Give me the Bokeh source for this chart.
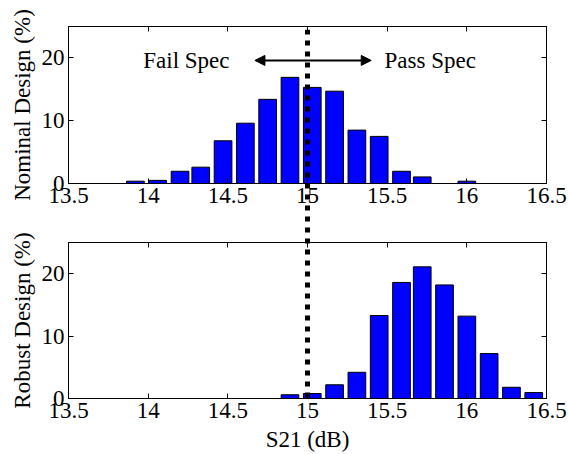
from bokeh.plotting import figure
from bokeh.models import LinearAxis, FixedTicker, Range1d, Arrow, NormalHead, Label, Span
from bokeh.layouts import column
from bokeh.embed import file_html
from bokeh.resources import INLINE

# ---- data ----
BIN_CENTERS = [13.50, 13.64, 13.78, 13.92, 14.06, 14.20, 14.33, 14.47, 14.61, 14.75, 14.89,
               15.03, 15.17, 15.31, 15.45, 15.59, 15.72, 15.86, 16.00, 16.14, 16.28, 16.42]
NOMINAL_PCT = [0, 0, 0, 0.37, 0.5, 1.95, 2.6, 6.8, 9.6, 13.4, 16.9,
               15.3, 14.7, 8.5, 7.5, 1.95, 1.05, 0, 0.37, 0, 0, 0]
ROBUST_PCT = [0, 0, 0, 0, 0, 0, 0, 0, 0, 0, 0.6,
              0.8, 2.2, 4.2, 13.3, 18.6, 21.1, 18.2, 13.2, 7.2, 1.8, 0.95]
X_TICKS = [13.5, 14.0, 14.5, 15.0, 15.5, 16.0, 16.5]
X_TICK_LABELS = ["13.5", "14", "14.5", "15", "15.5", "16", "16.5"]
Y_TICKS = [0, 10, 20]
X_RANGE = (13.5, 16.5)
Y_RANGE = (0, 25)
SPEC_DB = 15.0
ARROW_X = [14.67, 15.40]
ARROW_Y = 19.6
FAIL_X = 14.24
PASS_X = 15.77
BIN_WIDTH = 0.111

FONT = "Liberation Serif"
FS = "23px"
W = 569
BL, BR = 68, 23


def style_axis(ax, ticks, show_labels=True):
    ax.ticker = FixedTicker(ticks=ticks)
    ax.axis_line_color = "black"
    ax.axis_line_width = 1
    ax.major_tick_line_color = "black"
    ax.major_tick_in = 5
    ax.major_tick_out = 0
    ax.minor_tick_line_color = None
    ax.major_label_text_font = FONT
    ax.major_label_text_color = "black"
    if show_labels:
        ax.major_label_text_font_size = FS
        ax.major_label_standoff = 4
    else:
        ax.major_label_text_font_size = "1px"
        ax.major_label_text_color = None
        ax.major_label_standoff = 0
    ax.axis_label_text_font = FONT
    ax.axis_label_text_font_size = FS
    ax.axis_label_text_font_style = "normal"
    ax.axis_label_text_color = "black"


def make_fig(heights, ylabel, height, btop, bbottom, xlabel=None):
    p = figure(width=W, height=height,
               x_range=Range1d(*X_RANGE), y_range=Range1d(*Y_RANGE),
               output_backend="svg", toolbar_location=None,
               min_border_left=BL, min_border_right=BR,
               min_border_top=btop, min_border_bottom=bbottom)
    p.grid.visible = False
    p.outline_line_color = "black"
    p.outline_line_alpha = 1
    p.outline_line_width = 1
    p.background_fill_color = "white"

    p.vbar(x=BIN_CENTERS, top=heights, width=BIN_WIDTH,
           fill_color="#0000FF", line_color="black", line_width=1)

    xa = p.xaxis[0]
    ya = p.yaxis[0]
    style_axis(xa, X_TICKS)
    style_axis(ya, Y_TICKS)
    xa.major_label_overrides = {t: l for t, l in zip(X_TICKS, X_TICK_LABELS)}
    ya.axis_label = ylabel
    ya.axis_label_standoff = 4
    if xlabel:
        xa.axis_label = xlabel
        xa.axis_label_standoff = 6

    top_ax = LinearAxis()
    right_ax = LinearAxis()
    p.add_layout(top_ax, "above")
    p.add_layout(right_ax, "right")
    style_axis(top_ax, X_TICKS, show_labels=False)
    style_axis(right_ax, Y_TICKS, show_labels=False)
    return p


H_TOP, H_BOT = 222, 232
top = make_fig(NOMINAL_PCT, "Nominal Design (%)", H_TOP, 26, 39)
head = dict(size=10, fill_color="black", line_color="black")
top.add_layout(Arrow(start=NormalHead(**head), end=NormalHead(**head),
                     x_start=ARROW_X[0], x_end=ARROW_X[1], y_start=ARROW_Y, y_end=ARROW_Y,
                     line_color="black", line_width=2))
for x, txt in [(FAIL_X, "Fail Spec"), (PASS_X, "Pass Spec")]:
    top.add_layout(Label(x=x, y=ARROW_Y, text=txt, text_align="center",
                         text_baseline="middle", text_font=FONT, text_font_size=FS,
                         text_color="black"))

bottom = make_fig(ROBUST_PCT, "Robust Design (%)", H_BOT, 20, 54, xlabel="S21 (dB)")

# transparent overlay figure carrying the spec line across both panels
H_OV = 400
overlay = figure(width=W, height=H_OV, x_range=Range1d(*X_RANGE), y_range=Range1d(0, 1),
                 output_backend="svg", toolbar_location=None,
                 x_axis_location=None, y_axis_location=None,
                 min_border_left=BL, min_border_right=BR,
                 min_border_top=29, min_border_bottom=0,
                 margin=(-(H_TOP + H_BOT), 0, 0, 0))
overlay.grid.visible = False
overlay.outline_line_color = None
overlay.background_fill_alpha = 0
overlay.border_fill_alpha = 0
overlay.add_layout(Span(location=SPEC_DB, dimension="height", line_color="black",
                        line_width=5, line_dash="5 6"))

layout = column(top, bottom, overlay, spacing=0)
open("out.html", "w").write(file_html(layout, INLINE))
